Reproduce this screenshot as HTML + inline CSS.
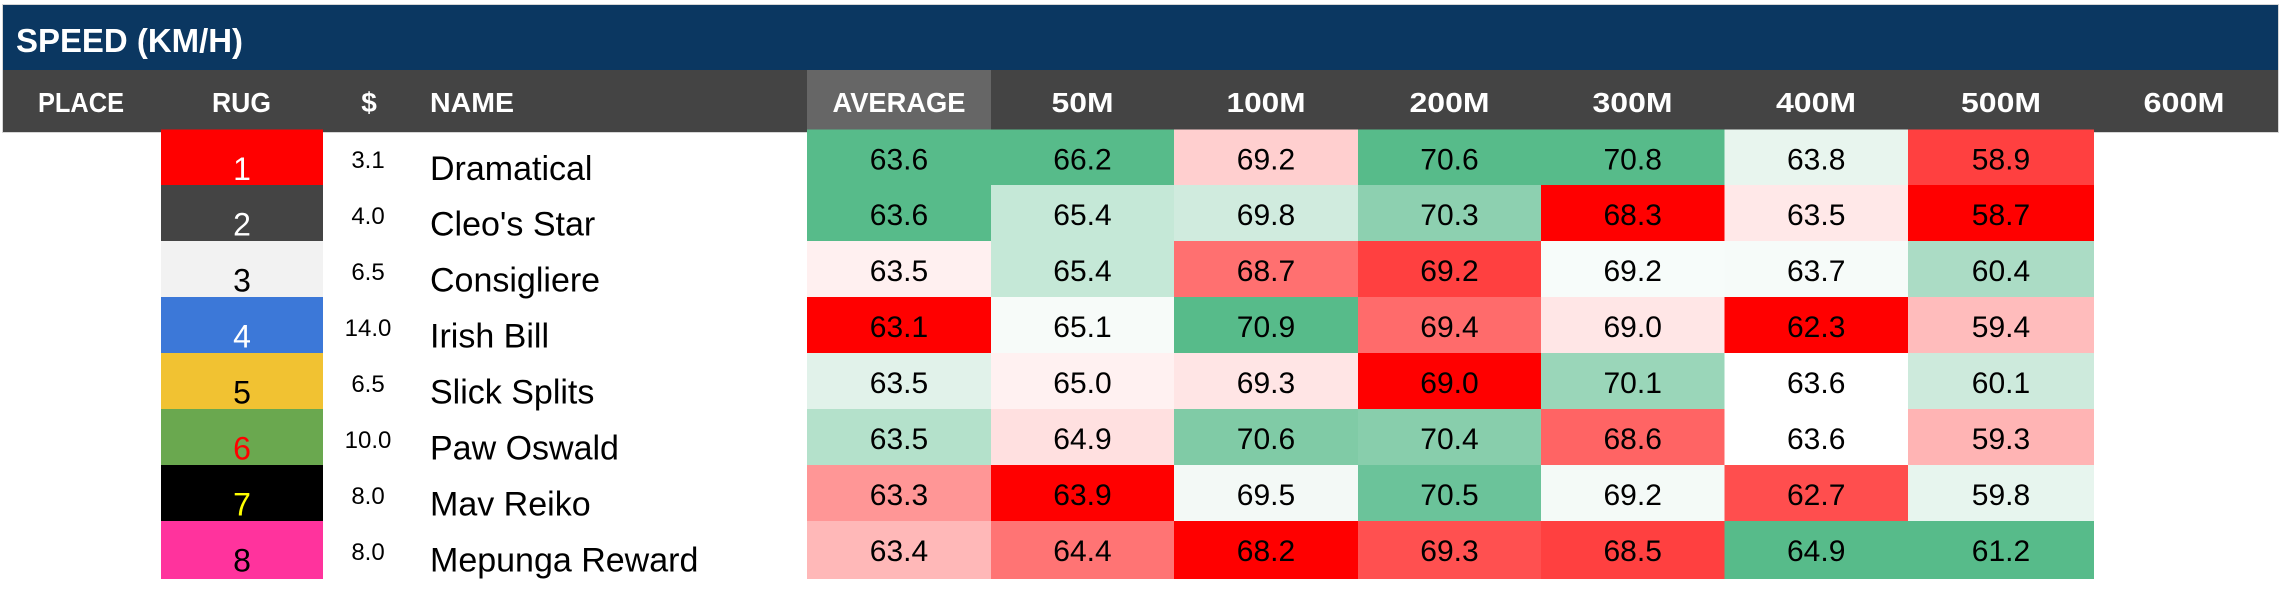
<!DOCTYPE html>
<html>
<head>
<meta charset="utf-8">
<style>
  html, body { margin: 0; padding: 0; background: #ffffff; }
  body { width: 2281px; height: 591px; overflow: hidden; }
  svg { display: block; }
  .hd { font-family: "Liberation Sans", sans-serif; font-weight: bold; fill: #ffffff; }
  .num { font-family: "Liberation Sans", sans-serif; font-size: 30px; fill: #000000; }
  .nm { font-family: "Liberation Sans", sans-serif; font-size: 34px; fill: #000000; }
  .od { font-family: "Liberation Sans", sans-serif; font-size: 24px; fill: #000000; }
  .rg { font-family: "Liberation Sans", sans-serif; font-size: 32px; }
</style>
</head>
<body>
<svg width="2281" height="591" viewBox="0 0 2281 591" xmlns="http://www.w3.org/2000/svg">
  <rect x="0" y="0" width="2281" height="591" fill="#ffffff"/>
  <!-- outer light border -->
  <rect x="2" y="4" width="2277" height="129" fill="#d6d6d6"/>
  <!-- title bar -->
  <rect x="3" y="5" width="2275" height="65" fill="#0b3761"/>
  <text class="hd" x="16" y="52" font-size="33" textLength="227" lengthAdjust="spacingAndGlyphs">SPEED (KM/H)</text>
  <!-- header bar -->
  <rect x="3" y="70" width="2275" height="62" fill="#444444"/>
  <rect x="807" y="70" width="184" height="60" fill="#666666"/>
  <text class="hd" x="81" y="112" font-size="28" text-anchor="middle" textLength="86" lengthAdjust="spacingAndGlyphs">PLACE</text>
  <text class="hd" x="241.5" y="112" font-size="28" text-anchor="middle" textLength="59" lengthAdjust="spacingAndGlyphs">RUG</text>
  <text class="hd" x="369" y="112" font-size="28" text-anchor="middle">$</text>
  <text class="hd" x="430" y="112" font-size="28" textLength="84" lengthAdjust="spacingAndGlyphs">NAME</text>
  <text class="hd" x="899" y="112" font-size="28" text-anchor="middle" textLength="133" lengthAdjust="spacingAndGlyphs">AVERAGE</text>
  <text class="hd" x="1082.5" y="112" font-size="28" text-anchor="middle" textLength="62" lengthAdjust="spacingAndGlyphs">50M</text>
  <text class="hd" x="1266" y="112" font-size="28" text-anchor="middle" textLength="79" lengthAdjust="spacingAndGlyphs">100M</text>
  <text class="hd" x="1449.5" y="112" font-size="28" text-anchor="middle" textLength="80" lengthAdjust="spacingAndGlyphs">200M</text>
  <text class="hd" x="1632.5" y="112" font-size="28" text-anchor="middle" textLength="80" lengthAdjust="spacingAndGlyphs">300M</text>
  <text class="hd" x="1816" y="112" font-size="28" text-anchor="middle" textLength="80" lengthAdjust="spacingAndGlyphs">400M</text>
  <text class="hd" x="2001" y="112" font-size="28" text-anchor="middle" textLength="80" lengthAdjust="spacingAndGlyphs">500M</text>
  <text class="hd" x="2184" y="112" font-size="28" text-anchor="middle" textLength="81" lengthAdjust="spacingAndGlyphs">600M</text>

  <!-- white strip covering border below header except where cells are -->
  <rect x="0" y="133" width="2281" height="458" fill="#ffffff"/>

  <!-- ROW 1 : top 129.5 h 55.5 -->
  <rect x="161" y="129.5" width="162" height="55.5" fill="#ff0000"/>
  <text class="rg" x="242" y="180.2" text-anchor="middle" fill="#ffffff">1</text>
  <text class="od" x="368" y="168.2" text-anchor="middle">3.1</text>
  <text class="nm" x="430" y="180.2">Dramatical</text>
  <rect x="807" y="129.5" width="184" height="55.5" fill="#57bb8a"/>
  <rect x="991" y="129.5" width="183" height="55.5" fill="#57bb8a"/>
  <rect x="1174" y="129.5" width="184" height="55.5" fill="#ffcfcf"/>
  <rect x="1358" y="129.5" width="183" height="55.5" fill="#57bb8a"/>
  <rect x="1541" y="129.5" width="183.5" height="55.5" fill="#57bb8a"/>
  <rect x="1724.5" y="129.5" width="183.5" height="55.5" fill="#e8f5ee"/>
  <rect x="1908" y="129.5" width="186" height="55.5" fill="#ff4040"/>
  <text class="num" x="899" y="169.5" text-anchor="middle">63.6</text>
  <text class="num" x="1082.5" y="169.5" text-anchor="middle">66.2</text>
  <text class="num" x="1266" y="169.5" text-anchor="middle">69.2</text>
  <text class="num" x="1449.5" y="169.5" text-anchor="middle">70.6</text>
  <text class="num" x="1632.7" y="169.5" text-anchor="middle">70.8</text>
  <text class="num" x="1816.2" y="169.5" text-anchor="middle">63.8</text>
  <text class="num" x="2001" y="169.5" text-anchor="middle">58.9</text>

  <!-- ROW 2 : top 185 -->
  <rect x="161" y="185" width="162" height="56" fill="#444444"/>
  <text class="rg" x="242" y="235.7" text-anchor="middle" fill="#ffffff">2</text>
  <text class="od" x="368" y="224" text-anchor="middle">4.0</text>
  <text class="nm" x="430" y="235.7">Cleo's Star</text>
  <rect x="807" y="185" width="184" height="56" fill="#57bb8a"/>
  <rect x="991" y="185" width="183" height="56" fill="#c5e8d7"/>
  <rect x="1174" y="185" width="184" height="56" fill="#d0ebde"/>
  <rect x="1358" y="185" width="183" height="56" fill="#8dd0b0"/>
  <rect x="1541" y="185" width="183.5" height="56" fill="#ff0000"/>
  <rect x="1724.5" y="185" width="183.5" height="56" fill="#ffe8e8"/>
  <rect x="1908" y="185" width="186" height="56" fill="#ff0000"/>
  <text class="num" x="899" y="225" text-anchor="middle">63.6</text>
  <text class="num" x="1082.5" y="225" text-anchor="middle">65.4</text>
  <text class="num" x="1266" y="225" text-anchor="middle">69.8</text>
  <text class="num" x="1449.5" y="225" text-anchor="middle">70.3</text>
  <text class="num" x="1632.7" y="225" text-anchor="middle">68.3</text>
  <text class="num" x="1816.2" y="225" text-anchor="middle">63.5</text>
  <text class="num" x="2001" y="225" text-anchor="middle">58.7</text>

  <!-- ROW 3 : top 241 -->
  <rect x="161" y="241" width="162" height="56" fill="#f2f2f2"/>
  <text class="rg" x="242" y="291.7" text-anchor="middle" fill="#000000">3</text>
  <text class="od" x="368" y="280" text-anchor="middle">6.5</text>
  <text class="nm" x="430" y="291.7">Consigliere</text>
  <rect x="807" y="241" width="184" height="56" fill="#fff0f0"/>
  <rect x="991" y="241" width="183" height="56" fill="#c5e8d7"/>
  <rect x="1174" y="241" width="184" height="56" fill="#ff7070"/>
  <rect x="1358" y="241" width="183" height="56" fill="#ff4040"/>
  <rect x="1541" y="241" width="183.5" height="56" fill="#f7fcfa"/>
  <rect x="1724.5" y="241" width="183.5" height="56" fill="#f6fbf9"/>
  <rect x="1908" y="241" width="186" height="56" fill="#abdcc5"/>
  <text class="num" x="899" y="281" text-anchor="middle">63.5</text>
  <text class="num" x="1082.5" y="281" text-anchor="middle">65.4</text>
  <text class="num" x="1266" y="281" text-anchor="middle">68.7</text>
  <text class="num" x="1449.5" y="281" text-anchor="middle">69.2</text>
  <text class="num" x="1632.7" y="281" text-anchor="middle">69.2</text>
  <text class="num" x="1816.2" y="281" text-anchor="middle">63.7</text>
  <text class="num" x="2001" y="281" text-anchor="middle">60.4</text>

  <!-- ROW 4 : top 297 -->
  <rect x="161" y="297" width="162" height="56" fill="#3c78d8"/>
  <text class="rg" x="242" y="347.7" text-anchor="middle" fill="#ffffff">4</text>
  <text class="od" x="368" y="336" text-anchor="middle">14.0</text>
  <text class="nm" x="430" y="347.7">Irish Bill</text>
  <rect x="807" y="297" width="184" height="56" fill="#ff0000"/>
  <rect x="991" y="297" width="183" height="56" fill="#f7fbf9"/>
  <rect x="1174" y="297" width="184" height="56" fill="#57bb8a"/>
  <rect x="1358" y="297" width="183" height="56" fill="#ff6b6b"/>
  <rect x="1541" y="297" width="183.5" height="56" fill="#ffe6e6"/>
  <rect x="1724.5" y="297" width="183.5" height="56" fill="#ff0000"/>
  <rect x="1908" y="297" width="186" height="56" fill="#ffbcbc"/>
  <text class="num" x="899" y="337" text-anchor="middle">63.1</text>
  <text class="num" x="1082.5" y="337" text-anchor="middle">65.1</text>
  <text class="num" x="1266" y="337" text-anchor="middle">70.9</text>
  <text class="num" x="1449.5" y="337" text-anchor="middle">69.4</text>
  <text class="num" x="1632.7" y="337" text-anchor="middle">69.0</text>
  <text class="num" x="1816.2" y="337" text-anchor="middle">62.3</text>
  <text class="num" x="2001" y="337" text-anchor="middle">59.4</text>

  <!-- ROW 5 : top 353 -->
  <rect x="161" y="353" width="162" height="56" fill="#f1c232"/>
  <text class="rg" x="242" y="403.7" text-anchor="middle" fill="#000000">5</text>
  <text class="od" x="368" y="392" text-anchor="middle">6.5</text>
  <text class="nm" x="430" y="403.7">Slick Splits</text>
  <rect x="807" y="353" width="184" height="56" fill="#e1f2ea"/>
  <rect x="991" y="353" width="183" height="56" fill="#fff1f1"/>
  <rect x="1174" y="353" width="184" height="56" fill="#ffe5e5"/>
  <rect x="1358" y="353" width="183" height="56" fill="#ff0000"/>
  <rect x="1541" y="353" width="183.5" height="56" fill="#9ad6b9"/>
  <rect x="1724.5" y="353" width="183.5" height="56" fill="#ffffff"/>
  <rect x="1908" y="353" width="186" height="56" fill="#cdeadc"/>
  <text class="num" x="899" y="393" text-anchor="middle">63.5</text>
  <text class="num" x="1082.5" y="393" text-anchor="middle">65.0</text>
  <text class="num" x="1266" y="393" text-anchor="middle">69.3</text>
  <text class="num" x="1449.5" y="393" text-anchor="middle">69.0</text>
  <text class="num" x="1632.7" y="393" text-anchor="middle">70.1</text>
  <text class="num" x="1816.2" y="393" text-anchor="middle">63.6</text>
  <text class="num" x="2001" y="393" text-anchor="middle">60.1</text>

  <!-- ROW 6 : top 409 -->
  <rect x="161" y="409" width="162" height="56" fill="#6aa84f"/>
  <text class="rg" x="242" y="459.7" text-anchor="middle" fill="#ff0000">6</text>
  <text class="od" x="368" y="448" text-anchor="middle">10.0</text>
  <text class="nm" x="430" y="459.7">Paw Oswald</text>
  <rect x="807" y="409" width="184" height="56" fill="#b4e1cb"/>
  <rect x="991" y="409" width="183" height="56" fill="#ffe0e0"/>
  <rect x="1174" y="409" width="184" height="56" fill="#80cba6"/>
  <rect x="1358" y="409" width="183" height="56" fill="#88ceac"/>
  <rect x="1541" y="409" width="183.5" height="56" fill="#ff6464"/>
  <rect x="1724.5" y="409" width="183.5" height="56" fill="#ffffff"/>
  <rect x="1908" y="409" width="186" height="56" fill="#ffb4b4"/>
  <text class="num" x="899" y="449" text-anchor="middle">63.5</text>
  <text class="num" x="1082.5" y="449" text-anchor="middle">64.9</text>
  <text class="num" x="1266" y="449" text-anchor="middle">70.6</text>
  <text class="num" x="1449.5" y="449" text-anchor="middle">70.4</text>
  <text class="num" x="1632.7" y="449" text-anchor="middle">68.6</text>
  <text class="num" x="1816.2" y="449" text-anchor="middle">63.6</text>
  <text class="num" x="2001" y="449" text-anchor="middle">59.3</text>

  <!-- ROW 7 : top 465 -->
  <rect x="161" y="465" width="162" height="56" fill="#000000"/>
  <text class="rg" x="242" y="515.7" text-anchor="middle" fill="#ffff00">7</text>
  <text class="od" x="368" y="504" text-anchor="middle">8.0</text>
  <text class="nm" x="430" y="515.7">Mav Reiko</text>
  <rect x="807" y="465" width="184" height="56" fill="#ff9696"/>
  <rect x="991" y="465" width="183" height="56" fill="#ff0000"/>
  <rect x="1174" y="465" width="184" height="56" fill="#f3f9f6"/>
  <rect x="1358" y="465" width="183" height="56" fill="#6bc39a"/>
  <rect x="1541" y="465" width="183.5" height="56" fill="#f4faf7"/>
  <rect x="1724.5" y="465" width="183.5" height="56" fill="#ff4e4e"/>
  <rect x="1908" y="465" width="186" height="56" fill="#e7f5ee"/>
  <text class="num" x="899" y="505" text-anchor="middle">63.3</text>
  <text class="num" x="1082.5" y="505" text-anchor="middle">63.9</text>
  <text class="num" x="1266" y="505" text-anchor="middle">69.5</text>
  <text class="num" x="1449.5" y="505" text-anchor="middle">70.5</text>
  <text class="num" x="1632.7" y="505" text-anchor="middle">69.2</text>
  <text class="num" x="1816.2" y="505" text-anchor="middle">62.7</text>
  <text class="num" x="2001" y="505" text-anchor="middle">59.8</text>

  <!-- ROW 8 : top 521 h 58 -->
  <rect x="161" y="521" width="162" height="58" fill="#ff339d"/>
  <text class="rg" x="242" y="571.7" text-anchor="middle" fill="#000000">8</text>
  <text class="od" x="368" y="560" text-anchor="middle">8.0</text>
  <text class="nm" x="430" y="571.7">Mepunga Reward</text>
  <rect x="807" y="521" width="184" height="58" fill="#ffb8b8"/>
  <rect x="991" y="521" width="183" height="58" fill="#ff7474"/>
  <rect x="1174" y="521" width="184" height="58" fill="#ff0000"/>
  <rect x="1358" y="521" width="183" height="58" fill="#ff5050"/>
  <rect x="1541" y="521" width="183.5" height="58" fill="#ff4040"/>
  <rect x="1724.5" y="521" width="183.5" height="58" fill="#57bb8a"/>
  <rect x="1908" y="521" width="186" height="58" fill="#57bb8a"/>
  <text class="num" x="899" y="561" text-anchor="middle">63.4</text>
  <text class="num" x="1082.5" y="561" text-anchor="middle">64.4</text>
  <text class="num" x="1266" y="561" text-anchor="middle">68.2</text>
  <text class="num" x="1449.5" y="561" text-anchor="middle">69.3</text>
  <text class="num" x="1632.7" y="561" text-anchor="middle">68.5</text>
  <text class="num" x="1816.2" y="561" text-anchor="middle">64.9</text>
  <text class="num" x="2001" y="561" text-anchor="middle">61.2</text>
</svg>
</body>
</html>
